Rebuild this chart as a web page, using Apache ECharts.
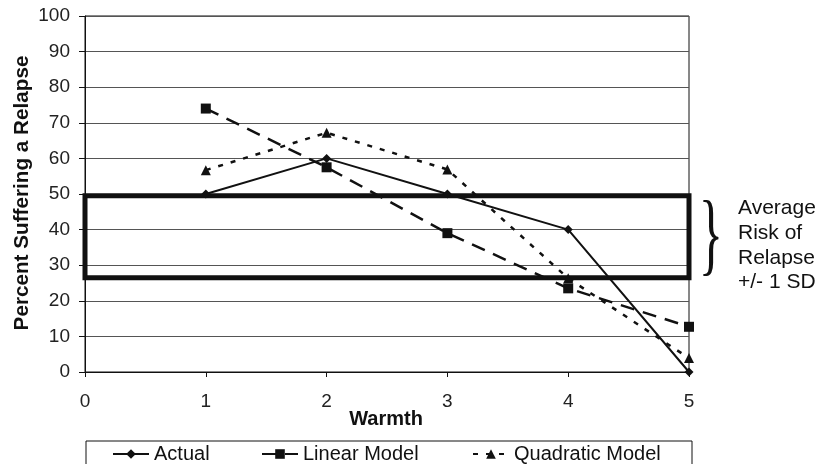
<!DOCTYPE html>
<html><head><meta charset="utf-8">
<script src="https://cdn.jsdelivr.net/npm/echarts@6/dist/echarts.min.js"></script>
<style>html,body{margin:0;padding:0;background:#fff}#c{width:822px;height:464px}</style>
</head><body><div id="c"></div>
<script>
var warmth = [1, 2, 3, 4, 5];
var actual = [50, 60, 50, 40, 0];
var linearModel = [74, 57.5, 39, 23.5, 12.7];
var quadraticModel = [56.7, 67.2, 56.9, 26.3, 3.9];
var bandLow = 26.5, bandHigh = 49.5;
var yTicks = [0, 10, 20, 30, 40, 50, 60, 70, 80, 90, 100];
var xTicks = [0, 1, 2, 3, 4, 5];
var seriesNames = ['Actual', 'Linear Model', 'Quadratic Model'];
var noteLines = ['Average', 'Risk of', 'Relapse', '+/- 1 SD'];

function pairs(v){ return warmth.map(function(x,i){ return [x, v[i]]; }); }
var FONT = 'Liberation Sans';
var chart = echarts.init(document.getElementById('c'));
var legendBase = {
  top: 444, itemWidth: 36, itemHeight: 12, padding: 0,
  textStyle: {fontFamily: FONT, fontSize: 20, color: '#111'}
};
chart.setOption({
  animation: false,
  grid: {left: 85, right: 133, top: 16, bottom: 92, show: true, borderColor: '#111', borderWidth: 1},
  xAxis: {
    type: 'value', min: xTicks[0], max: xTicks[xTicks.length-1], interval: 1,
    axisLine: {lineStyle: {color: '#111', width: 1}},
    axisTick: {show: true, length: 5, lineStyle: {color: '#111'}},
    axisLabel: {fontFamily: FONT, fontSize: 19, color: '#222', margin: 20},
    splitLine: {show: false}
  },
  yAxis: {
    type: 'value', min: yTicks[0], max: yTicks[yTicks.length-1], interval: 10,
    axisLine: {show: true, lineStyle: {color: '#111', width: 1}},
    axisTick: {show: true, length: 6, lineStyle: {color: '#111'}},
    axisLabel: {fontFamily: FONT, fontSize: 19, color: '#222', margin: 15},
    splitLine: {show: true, lineStyle: {color: '#555', width: 1}}
  },
  legend: [
    Object.assign({}, legendBase, {left: 112, data: [seriesNames[0]]}),
    Object.assign({}, legendBase, {left: 261, data: [seriesNames[1]]}),
    Object.assign({}, legendBase, {left: 472, data: [seriesNames[2]]})
  ],
  series: [
    {name: seriesNames[0], type: 'line', data: pairs(actual), symbol: 'diamond', symbolSize: 9,
     lineStyle: {color: '#111', width: 2}, itemStyle: {color: '#111'},
     markArea: {silent: true, itemStyle: {color: 'rgba(0,0,0,0)', borderColor: '#111', borderWidth: 5},
       data: [[{xAxis: 0, yAxis: bandLow}, {xAxis: 5, yAxis: bandHigh}]]}},
    {name: seriesNames[1], type: 'line', data: pairs(linearModel), symbol: 'rect', symbolSize: 10,
     lineStyle: {color: '#111', width: 2.5, type: [14, 9]}, itemStyle: {color: '#111'}},
    {name: seriesNames[2], type: 'line', data: pairs(quadraticModel), symbol: 'triangle', symbolSize: 10,
     lineStyle: {color: '#111', width: 2.5, type: [5, 8]}, itemStyle: {color: '#111'}}
  ],
  graphic: [
    {type: 'rect', shape: {x: 86, y: 441, width: 606, height: 40}, style: {fill: 'none', stroke: '#111', lineWidth: 1}, silent: true},
    {type: 'text', x: 386, y: 419, style: {text: 'Warmth', fontFamily: FONT, fontSize: 20, fontWeight: 'bold', fill: '#111', textAlign: 'center', textVerticalAlign: 'middle'}},
    {type: 'text', x: 22, y: 193, rotation: Math.PI/2, style: {text: 'Percent Suffering a Relapse', fontFamily: FONT, fontSize: 20.7, fontWeight: 'bold', fill: '#111', textAlign: 'center', textVerticalAlign: 'middle'}},
    {type: 'text', x: 711, y: 240, scaleX: 0.55, style: {text: '}', fontFamily: 'Liberation Serif', fontSize: 92, fill: '#111', textAlign: 'center', textVerticalAlign: 'middle'}},
    {type: 'text', x: 738, y: 196, style: {text: noteLines.join('\n'), fontFamily: FONT, fontSize: 21, lineHeight: 24.7, fill: '#111', textAlign: 'left', textVerticalAlign: 'top'}}
  ]
});
</script></body></html>
